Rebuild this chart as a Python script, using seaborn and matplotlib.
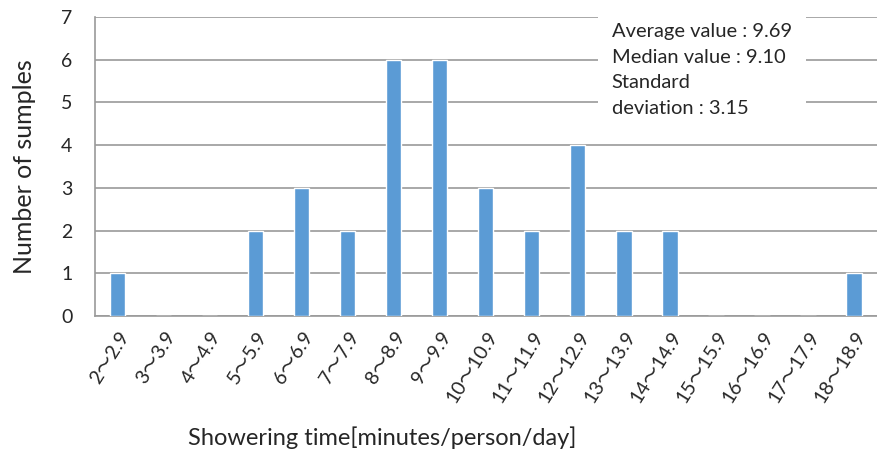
import pandas as pd
import seaborn as sns
import matplotlib.pyplot as plt

ranges = ['2～2.9', '3～3.9', '4～4.9', '5～5.9', '6～6.9', '7～7.9', '8～8.9', '9～9.9',
          '10～10.9', '11～11.9', '12～12.9', '13～13.9', '14～14.9', '15～15.9',
          '16～16.9', '17～17.9', '18～18.9']
counts = [1, 0, 0, 2, 3, 2, 6, 6, 3, 2, 4, 2, 2, 0, 0, 0, 1]
stats_text = 'Average value : 9.69\nMedian value : 9.10\nStandard\ndeviation : 3.15'

sns.set_style('white')
plt.rcParams['font.family'] = ['Lato', 'Noto Sans CJK JP', 'DejaVu Sans']

df = pd.DataFrame({'range': ranges, 'count': counts})

fig = plt.figure(figsize=(8.77, 4.58), dpi=100)
ax = fig.add_axes([0.108, 0.31, 0.892, 0.653])

sns.barplot(data=df, x='range', y='count', color='#5B9BD5', width=0.33,
            saturation=1, ax=ax, zorder=3)

ax.set_ylim(0, 7)
ax.set_xlim(-0.5, len(ranges) - 0.5)
ax.set_yticks(range(0, 8))
ax.yaxis.grid(True, color='#9A9A9A', linewidth=1.2, zorder=0)
ax.set_axisbelow(True)

for s in ['top', 'right']:
    ax.spines[s].set_visible(False)
for s in ['left', 'bottom']:
    ax.spines[s].set_color('#9A9A9A')
    ax.spines[s].set_linewidth(1.2)

ax.tick_params(axis='y', length=0, pad=16, labelsize=14)
ax.tick_params(axis='x', length=0, pad=9, labelsize=14)
plt.setp(ax.get_xticklabels(), rotation=58, ha='right', rotation_mode='anchor')

ax.set_xlabel('Showering time[minutes/person/day]', fontsize=17)
ax.set_ylabel('Number of sumples', fontsize=18)
ax.xaxis.set_label_coords(0.368, -0.37)
ax.yaxis.set_label_coords(-0.075, 0.5)

ax.text(0.661, 0.98, stats_text, transform=ax.transAxes, ha='left', va='top',
        fontsize=14.5, linespacing=1.62, zorder=5,
        bbox=dict(facecolor='white', edgecolor='none', boxstyle='square,pad=0.7'))

fig.savefig('out.png', dpi=100)
